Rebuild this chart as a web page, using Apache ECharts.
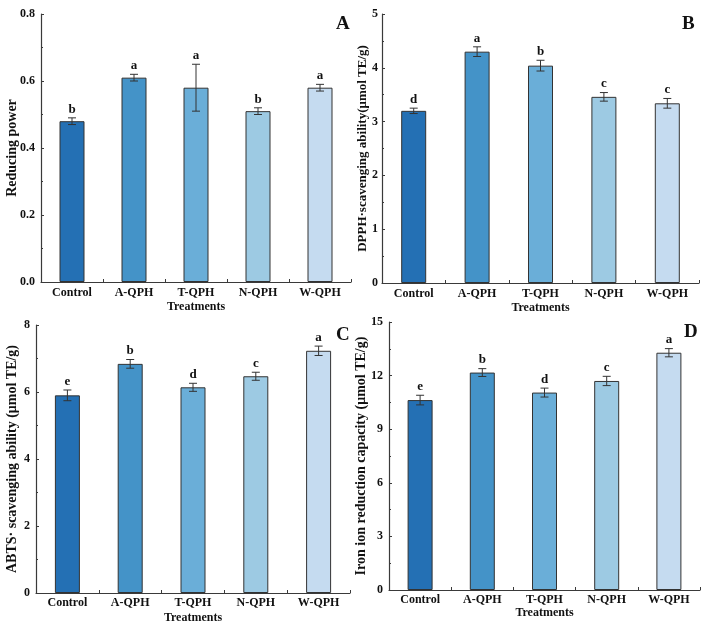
<!DOCTYPE html>
<html>
<head>
<meta charset="utf-8">
<script src="https://cdn.jsdelivr.net/npm/echarts@6/dist/echarts.min.js"></script>
<style>
html,body{margin:0;padding:0;background:#fff;}
#chart{width:708px;height:632px;}
</style>
</head>
<body>
<div id="chart"></div>
<script>
var categories = ['Control', 'A-QPH', 'T-QPH', 'N-QPH', 'W-QPH'];
var barColors = ['#2470b4', '#4493c8', '#6aaed8', '#9dcae3', '#c5dbf0'];

var reducingValues = [0.48, 0.61, 0.58, 0.51, 0.58];
var reducingErrors = [0.01, 0.01, 0.07, 0.01, 0.01];
var reducingLetters = ['b', 'a', 'a', 'b', 'a'];

var dpphValues = [3.20, 4.30, 4.04, 3.46, 3.34];
var dpphErrors = [0.05, 0.09, 0.10, 0.08, 0.09];
var dpphLetters = ['d', 'a', 'b', 'c', 'c'];

var abtsValues = [5.90, 6.84, 6.14, 6.47, 7.23];
var abtsErrors = [0.16, 0.13, 0.12, 0.12, 0.14];
var abtsLetters = ['e', 'b', 'd', 'c', 'a'];

var ironValues = [10.63, 12.17, 11.05, 11.70, 13.28];
var ironErrors = [0.27, 0.22, 0.25, 0.26, 0.23];
var ironLetters = ['e', 'b', 'd', 'c', 'a'];

var yTitles = ['Reducing power', 'DPPH·scavenging ability(μmol TE/g)', 'ABTS· scavenging ability (μmol TE/g)', 'Iron ion reduction capacity (μmol TE/g)'];
var panelLetters = ['A', 'B', 'C', 'D'];

var FONT = '"Liberation Serif", "Times New Roman", serif';
var AXC = '#3a3a3a';

var panels = [
  {vals: reducingValues, errs: reducingErrors, letters: reducingLetters, min: 0, max: 0.8, interval: 0.2, dec: 1,
   grid: {left: 41, top: 14, width: 310, height: 268}, nameGap: 22, nameSize: 14, yMargin: 6, xNameGap: 19, xMargin: 5, letterPos: [343, 25]},
  {vals: dpphValues, errs: dpphErrors, letters: dpphLetters, min: 0, max: 5, interval: 1, dec: 0,
   grid: {left: 382, top: 14, width: 317, height: 269}, nameGap: 13, nameSize: 13, yMargin: 4, xNameGap: 19, xMargin: 5, letterPos: [689, 25]},
  {vals: abtsValues, errs: abtsErrors, letters: abtsLetters, min: 0, max: 8, interval: 2, dec: 0,
   grid: {left: 36, top: 325, width: 314, height: 268}, nameGap: 17, nameSize: 14, yMargin: 6, xNameGap: 19, xMargin: 4, letterPos: [343, 336]},
  {vals: ironValues, errs: ironErrors, letters: ironLetters, min: 0, max: 15, interval: 3, dec: 0,
   grid: {left: 389, top: 322, width: 311, height: 268}, nameGap: 21, nameSize: 14, yMargin: 6, xNameGap: 17, xMargin: 4, letterPos: [691, 333]}
];

var grids = [], xAxes = [], yAxes = [], series = [], graphics = [];

panels.forEach(function (p, i) {
  grids.push(p.grid);
  xAxes.push({
    type: 'category', gridIndex: i, data: categories,
    name: 'Treatments', nameLocation: 'middle', nameGap: p.xNameGap, nameMoveOverlap: false,
    nameTextStyle: {fontFamily: FONT, fontWeight: 'bold', fontSize: 12, color: '#111'},
    axisLine: {lineStyle: {color: AXC, width: 1.2}},
    axisTick: {show: true, inside: true, length: 3, lineStyle: {color: AXC}},
    axisLabel: {fontFamily: FONT, fontWeight: 'bold', fontSize: 12, color: '#111', margin: p.xMargin},
    splitLine: {show: false}
  });
  yAxes.push({
    type: 'value', gridIndex: i, min: p.min, max: p.max, interval: p.interval,
    name: yTitles[i], nameLocation: 'middle', nameGap: p.nameGap, nameMoveOverlap: false,
    nameTextStyle: {fontFamily: FONT, fontWeight: 'bold', fontSize: p.nameSize, color: '#111'},
    axisLine: {show: true, lineStyle: {color: AXC, width: 1.2}},
    axisTick: {show: true, inside: true, length: 3, lineStyle: {color: AXC}},
    minorTick: {show: true, splitNumber: 2, length: 2, lineStyle: {color: AXC}},
    axisLabel: {fontFamily: FONT, fontWeight: 'bold', fontSize: 12, color: '#111', margin: p.yMargin,
      formatter: (function (d) { return function (v) { return v.toFixed(d); }; })(p.dec)},
    splitLine: {show: false}
  });
  series.push({
    type: 'bar', xAxisIndex: i, yAxisIndex: i, barWidth: 25,
    data: p.vals.map(function (v, k) {
      return {value: v, itemStyle: {color: barColors[k]}};
    }),
    itemStyle: {borderColor: '#333', borderWidth: 1},
    silent: true
  });
  series.push({
    type: 'custom', xAxisIndex: i, yAxisIndex: i, silent: true, z: 5,
    encode: {x: 0, y: 1},
    data: p.vals.map(function (v, k) { return [k, v, p.errs[k], p.letters[k]]; }),
    renderItem: function (params, api) {
      var x = api.value(0), v = api.value(1), e = api.value(2);
      var hi = api.coord([x, v + e]);
      var lo = api.coord([x, v - e]);
      var cx = hi[0], w = 4;
      var style = {stroke: '#333', lineWidth: 1};
      var letter = p.letters[params.dataIndex];
      return {
        type: 'group',
        children: [
          {type: 'line', shape: {x1: cx, y1: hi[1], x2: cx, y2: lo[1]}, style: style},
          {type: 'line', shape: {x1: cx - w, y1: hi[1], x2: cx + w, y2: hi[1]}, style: style},
          {type: 'line', shape: {x1: cx - w, y1: lo[1], x2: cx + w, y2: lo[1]}, style: style},
          {type: 'text', x: cx, y: hi[1] - 2, style: {text: letter, fill: '#111',
            font: 'bold 13px ' + FONT, textAlign: 'center', textVerticalAlign: 'bottom'}}
        ]
      };
    }
  });
  graphics.push({
    type: 'text', left: p.letterPos[0] - 7, top: p.letterPos[1] - 10,
    style: {text: panelLetters[i], font: 'bold 19px ' + FONT, fill: '#111'}
  });
});

var chart = echarts.init(document.getElementById('chart'), null, {renderer: 'canvas'});
chart.setOption({
  animation: false,
  backgroundColor: '#fff',
  grid: grids,
  xAxis: xAxes,
  yAxis: yAxes,
  series: series,
  graphic: graphics
});
</script>
</body>
</html>
